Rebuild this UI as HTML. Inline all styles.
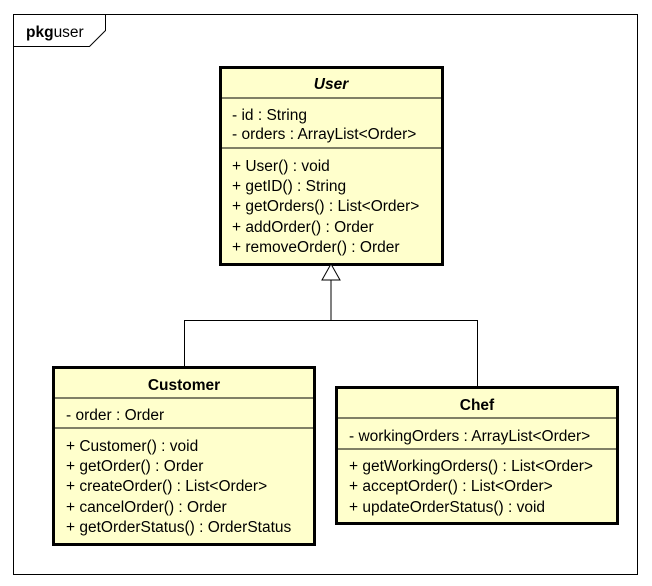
<!DOCTYPE html>
<html><head><style>body{margin:0;background:#fff}svg{display:block}text{font-family:"Liberation Sans",Arial,sans-serif;font-size:15.5px;fill:#000}</style></head><body>
<svg width="652" height="586" xmlns="http://www.w3.org/2000/svg">
<rect x="13.5" y="14.5" width="624" height="560" fill="#fff" stroke="#000" stroke-width="1"/>
<path d="M13.5 46.5 H89.5 L105.5 30.5 V14.5" fill="none" stroke="#000"/>
<text x="26" y="37"><tspan font-weight="bold">pkg</tspan>user</text>

<rect x="220.5" y="67.5" width="222" height="197" fill="#ffffcc" stroke="#000" stroke-width="3"/>
<line x1="221" y1="98" x2="442" y2="98" stroke="#000"/>
<line x1="221" y1="148" x2="442" y2="148" stroke="#000"/>
<text x="331" y="89" text-anchor="middle" font-weight="bold" font-style="italic">User</text>
<text x="232" y="120">- id : String</text>
<text x="232" y="139">- orders : ArrayList&lt;Order&gt;</text>
<text x="232" y="171">+ User() : void</text>
<text x="232" y="191">+ getID() : String</text>
<text x="232" y="211">+ getOrders() : List&lt;Order&gt;</text>
<text x="232" y="232">+ addOrder() : Order</text>
<text x="232" y="252">+ removeOrder() : Order</text>

<path d="M331 264 L322 280 H340 Z" fill="#fff" stroke="#000"/>
<path d="M331 280 V320.5 M184.5 367 V320.5 H477.5 V387" fill="none" stroke="#000"/>

<rect x="53.5" y="367.5" width="261" height="177" fill="#ffffcc" stroke="#000" stroke-width="3"/>
<line x1="54" y1="398" x2="314" y2="398" stroke="#000"/>
<line x1="54" y1="428" x2="314" y2="428" stroke="#000"/>
<text x="184" y="390" text-anchor="middle" font-weight="bold">Customer</text>
<text x="66" y="420">- order : Order</text>
<text x="66" y="451">+ Customer() : void</text>
<text x="66" y="471">+ getOrder() : Order</text>
<text x="66" y="491">+ createOrder() : List&lt;Order&gt;</text>
<text x="66" y="512">+ cancelOrder() : Order</text>
<text x="66" y="532">+ getOrderStatus() : OrderStatus</text>

<rect x="336.5" y="387.5" width="281" height="136" fill="#ffffcc" stroke="#000" stroke-width="3"/>
<line x1="337" y1="418" x2="617" y2="418" stroke="#000"/>
<line x1="337" y1="449" x2="617" y2="449" stroke="#000"/>
<text x="477" y="410" text-anchor="middle" font-weight="bold">Chef</text>
<text x="349" y="441">- workingOrders : ArrayList&lt;Order&gt;</text>
<text x="349" y="471">+ getWorkingOrders() : List&lt;Order&gt;</text>
<text x="349" y="491">+ acceptOrder() : List&lt;Order&gt;</text>
<text x="349" y="512">+ updateOrderStatus() : void</text>
</svg>
</body></html>
